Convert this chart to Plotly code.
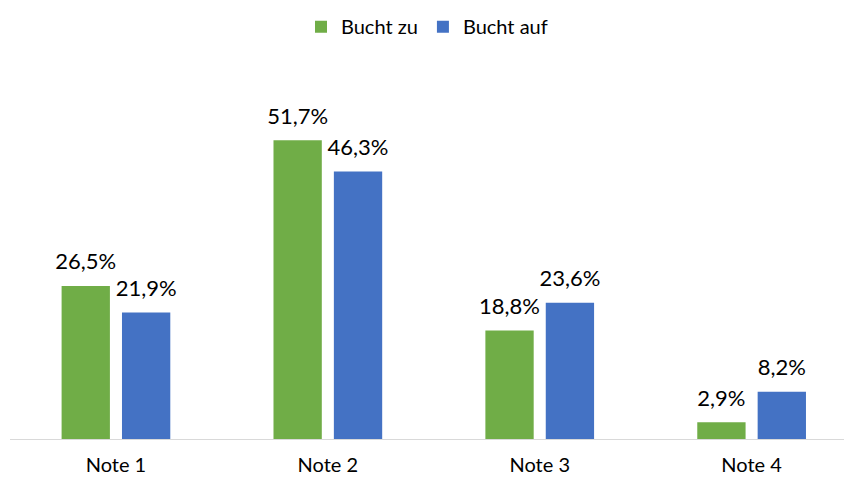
import plotly.graph_objects as go

categories = ["Note 1", "Note 2", "Note 3", "Note 4"]
bucht_zu = [26.5, 51.7, 18.8, 2.9]
bucht_auf = [21.9, 46.3, 23.6, 8.2]

FONT = "Lato, Carlito, Calibri, sans-serif"
FS = 20
LFS = 22

fig = go.Figure()
for name, vals, col, grp in [("Bucht zu", bucht_zu, "#70AD47", "a"),
                             ("Bucht auf", bucht_auf, "#4472C4", "b")]:
    fig.add_trace(go.Bar(
        name=name, x=categories, y=vals, offsetgroup=grp,
        marker=dict(color=col, line=dict(width=0)),
    ))
for name, vals, grp in [("Bucht zu", bucht_zu, "a"), ("Bucht auf", bucht_auf, "b")]:
    fig.add_trace(go.Scatter(
        name=name, x=categories, y=vals, offsetgroup=grp,
        mode="markers+text", showlegend=False, cliponaxis=False,
        marker=dict(size=16, opacity=0),
        texttemplate="%{y:.1f}%", textposition="top center",
        textfont=dict(size=LFS, color="#000000", family=FONT),
    ))

fig.update_layout(
    width=844, height=479,
    margin=dict(l=10, r=0, t=60, b=40, autoexpand=False),
    paper_bgcolor="white", plot_bgcolor="white",
    separators=",.",
    barmode="group", bargap=0.43, bargroupgap=0.2,
    scattermode="group", scattergap=0.43,
    font=dict(family=FONT, size=FS, color="#000000"),
    showlegend=True,
    legend=dict(orientation="h", x=0.5, xanchor="center", y=0.985, yanchor="top",
                yref="container", font=dict(size=FS), itemclick=False),
    hovermode=False,
)
fig.update_xaxes(range=[-0.5, 3.436], showline=True, linecolor="#D9D9D9", linewidth=1,
                 ticks="", showgrid=False, zeroline=False, ticklabelstandoff=8,
                 tickfont=dict(size=FS, family=FONT, color="#000000"))
fig.update_yaxes(range=[0, 65.6], visible=False, showgrid=False, zeroline=False)

fig.write_html("out.html", config={"displayModeBar": False},
               post_script="document.body.style.margin='0';")
